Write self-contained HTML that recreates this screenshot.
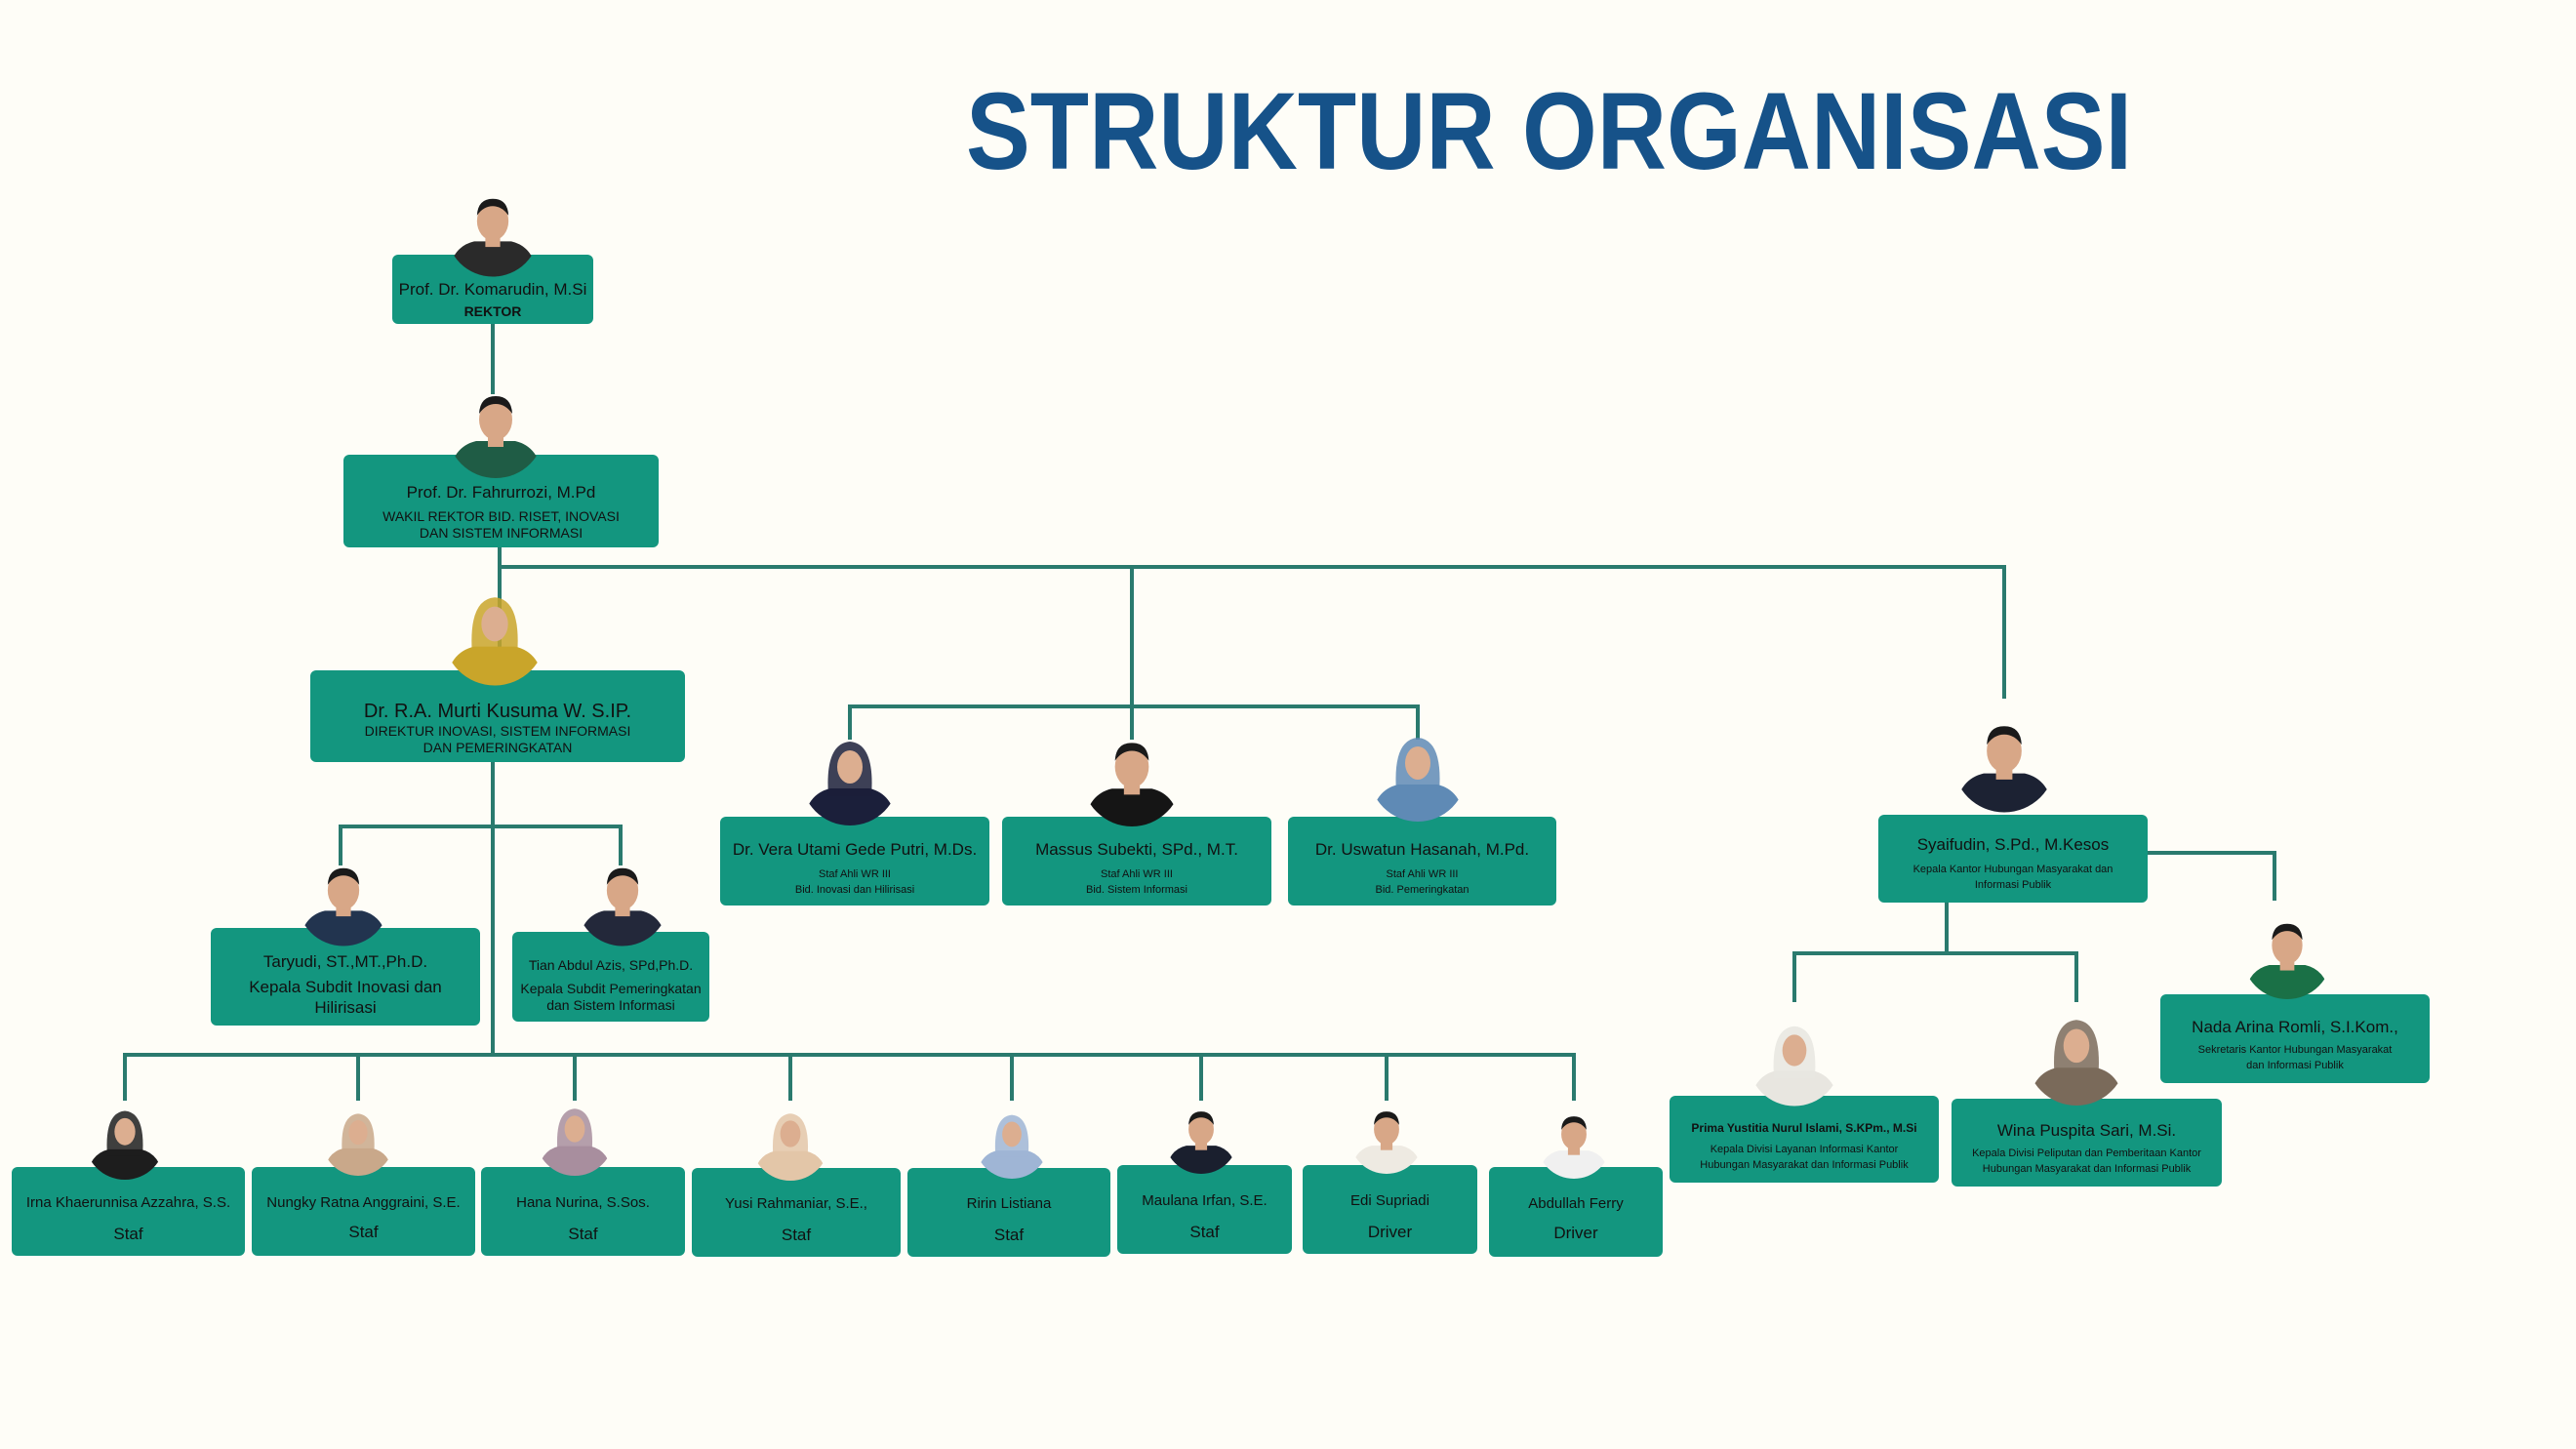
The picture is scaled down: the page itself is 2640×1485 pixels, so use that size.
<!DOCTYPE html>
<html><head><meta charset="utf-8"><style>
html,body{margin:0;padding:0;background:#fefdf7;}
#c{position:relative;width:2640px;height:1485px;overflow:hidden;background:#fefdf7;font-family:"Liberation Sans",sans-serif;}
.b{position:absolute;background:#13967f;border-radius:6px;color:#111;text-align:center;box-sizing:border-box;display:flex;flex-direction:column;justify-content:flex-end;align-items:center;}
.n{font-size:17px;line-height:1.25;}
.s{font-size:14px;line-height:1.2;}
.xs{font-size:11px;line-height:1.4;}
svg{position:absolute;left:0;top:0;}
</style></head><body><div id="c">
<svg width="2640" height="1485">
<text x="990" y="173" font-family="Liberation Sans" font-weight="bold" font-size="112" fill="#165289" textLength="1195" lengthAdjust="spacingAndGlyphs">STRUKTUR ORGANISASI</text>
<g stroke="#2a7a6e" stroke-width="4" fill="none">
<path d="M505 332V404"/>
<path d="M512 561V687"/>
<path d="M510 581H2054V716"/>
<path d="M1160 581V724M871 758V724H1453V758M1160 724V758"/>
<path d="M505 781V1081"/>
<path d="M349 887V847H636V887"/>
<path d="M128 1128V1081H1613V1128M367 1081V1128M589 1081V1128M810 1081V1128M1037 1081V1128M1231 1081V1128M1421 1081V1128"/>
<path d="M2201 874H2331V923"/>
<path d="M1995 925V977M1839 1027V977H2128V1027"/>
</g>
</svg>

<div class="b" style="left:402px;top:261px;width:206px;height:71px;padding-bottom:4px"><div class="n">Prof. Dr. Komarudin, M.Si</div><div class="s" style="font-weight:bold;margin-top:4px">REKTOR</div></div>
<div class="b" style="left:352px;top:466px;width:323px;height:95px;padding-bottom:6px"><div class="n">Prof. Dr. Fahrurrozi, M.Pd</div><div class="s" style="margin-top:6px">WAKIL REKTOR BID. RISET, INOVASI<br>DAN SISTEM INFORMASI</div></div>
<div class="b" style="left:318px;top:687px;width:384px;height:94px;padding-bottom:6px"><div style="font-size:20px;line-height:1.2">Dr. R.A. Murti Kusuma W. S.IP.</div><div class="s">DIREKTUR INOVASI, SISTEM INFORMASI<br>DAN PEMERINGKATAN</div></div>
<div class="b" style="left:216px;top:951px;width:276px;height:100px;padding-bottom:8px"><div class="n">Taryudi, ST.,MT.,Ph.D.</div><div class="n" style="margin-top:4px">Kepala Subdit Inovasi dan<br>Hilirisasi</div></div>
<div class="b" style="left:525px;top:955px;width:202px;height:92px;padding-bottom:8px"><div class="s">Tian Abdul Azis, SPd,Ph.D.</div><div class="s" style="margin-top:8px">Kepala Subdit Pemeringkatan<br>dan Sistem Informasi</div></div>

<div class="b" style="left:738px;top:837px;width:276px;height:91px;padding-bottom:8px"><div class="n">Dr. Vera Utami Gede Putri, M.Ds.</div><div class="xs" style="margin-top:8px">Staf Ahli WR III<br>Bid. Inovasi dan Hilirisasi</div></div>
<div class="b" style="left:1027px;top:837px;width:276px;height:91px;padding-bottom:8px"><div class="n">Massus Subekti, SPd., M.T.</div><div class="xs" style="margin-top:8px">Staf Ahli WR III<br>Bid. Sistem Informasi</div></div>
<div class="b" style="left:1320px;top:837px;width:275px;height:91px;padding-bottom:8px"><div class="n">Dr. Uswatun Hasanah, M.Pd.</div><div class="xs" style="margin-top:8px">Staf Ahli WR III<br>Bid. Pemeringkatan</div></div>

<div class="b" style="left:1925px;top:835px;width:276px;height:90px;padding-bottom:10px"><div class="n">Syaifudin, S.Pd., M.Kesos</div><div class="xs" style="margin-top:8px">Kepala Kantor Hubungan Masyarakat dan<br>Informasi Publik</div></div>
<div class="b" style="left:2214px;top:1019px;width:276px;height:91px;padding-bottom:10px"><div class="n">Nada Arina Romli, S.I.Kom.,</div><div class="xs" style="margin-top:6px">Sekretaris Kantor Hubungan Masyarakat<br>dan Informasi Publik</div></div>
<div class="b" style="left:1711px;top:1123px;width:276px;height:89px;padding-bottom:10px"><div class="xs" style="font-weight:bold;font-size:12px">Prima Yustitia Nurul Islami, S.KPm., M.Si</div><div class="xs" style="margin-top:6px">Kepala Divisi Layanan Informasi Kantor<br>Hubungan Masyarakat dan Informasi Publik</div></div>
<div class="b" style="left:2000px;top:1126px;width:277px;height:90px;padding-bottom:10px"><div class="n">Wina Puspita Sari, M.Si.</div><div class="xs" style="margin-top:6px">Kepala Divisi Peliputan dan Pemberitaan Kantor<br>Hubungan Masyarakat dan Informasi Publik</div></div>

<div class="b" style="left:12px;top:1196px;width:239px;height:91px;padding-bottom:12px"><div class="s" style="font-size:15px">Irna Khaerunnisa Azzahra, S.S.</div><div class="n" style="margin-top:12px">Staf</div></div>
<div class="b" style="left:258px;top:1196px;width:229px;height:91px;padding-bottom:14px"><div class="s" style="font-size:15px">Nungky Ratna Anggraini, S.E.</div><div class="n" style="margin-top:10px">Staf</div></div>
<div class="b" style="left:493px;top:1196px;width:209px;height:91px;padding-bottom:12px"><div class="s" style="font-size:15px">Hana Nurina, S.Sos.</div><div class="n" style="margin-top:12px">Staf</div></div>
<div class="b" style="left:709px;top:1197px;width:214px;height:91px;padding-bottom:12px"><div class="s" style="font-size:15px">Yusi Rahmaniar, S.E.,</div><div class="n" style="margin-top:12px">Staf</div></div>
<div class="b" style="left:930px;top:1197px;width:208px;height:91px;padding-bottom:12px"><div class="s" style="font-size:15px">Ririn Listiana</div><div class="n" style="margin-top:12px">Staf</div></div>
<div class="b" style="left:1145px;top:1194px;width:179px;height:91px;padding-bottom:12px"><div class="s" style="font-size:15px">Maulana Irfan, S.E.</div><div class="n" style="margin-top:12px">Staf</div></div>
<div class="b" style="left:1335px;top:1194px;width:179px;height:91px;padding-bottom:12px"><div class="s" style="font-size:15px">Edi Supriadi</div><div class="n" style="margin-top:12px">Driver</div></div>
<div class="b" style="left:1526px;top:1196px;width:178px;height:92px;padding-bottom:14px"><div class="s" style="font-size:15px">Abdullah Ferry</div><div class="n" style="margin-top:10px">Driver</div></div>

<svg width="2640" height="1485">
<defs>
<clipPath id="cp"><circle cx="0" cy="0" r="50"/></clipPath>
<g id="p"><g clip-path="url(#cp)"><path d="M-48 52 Q-46 18 -20 12 L20 12 Q46 18 48 52Z" fill="currentColor"/><rect x="-8" y="8" width="16" height="10" fill="#d8a787"/><ellipse cx="0" cy="-10" rx="17" ry="21" fill="#d8a787"/><path d="M-17 -16 Q-16 -34 0 -34 Q16 -34 17 -16 Q10 -26 0 -26 Q-10 -26 -17 -16Z" fill="#1a1a1a"/></g></g>
<g id="h"><g clip-path="url(#cp)"><path d="M-48 52 Q-46 18 -20 12 L20 12 Q46 18 48 52Z" fill="currentColor"/><path d="M-22 20 Q-26 -34 0 -36 Q26 -34 22 20Z" fill="currentColor" opacity="0.85"/><ellipse cx="0" cy="-10" rx="13" ry="17" fill="#dcae90"/></g></g>
</defs>
<g color="#2a2a2a"><use href="#p" transform="translate(505,236) scale(0.95)"/></g>
<g color="#1f5c45"><use href="#p" transform="translate(508,440) scale(1.0)"/></g>
<g color="#c9a52a"><use href="#h" transform="translate(507,650) scale(1.05)"/></g>
<g color="#22344f"><use href="#p" transform="translate(352,922) scale(0.95)"/></g>
<g color="#23283a"><use href="#p" transform="translate(638,922) scale(0.95)"/></g>
<g color="#1b1f3a"><use href="#h" transform="translate(871,796) scale(1.0)"/></g>
<g color="#151515"><use href="#p" transform="translate(1160,796) scale(1.02)"/></g>
<g color="#5f8ab5"><use href="#h" transform="translate(1453,792) scale(1.0)"/></g>
<g color="#1c2233"><use href="#p" transform="translate(2054,780) scale(1.05)"/></g>
<g color="#1a7046"><use href="#p" transform="translate(2344,978) scale(0.92)"/></g>
<g color="#e8e6e0"><use href="#h" transform="translate(1839,1086) scale(0.95)"/></g>
<g color="#7a6a5a"><use href="#h" transform="translate(2128,1082) scale(1.02)"/></g>
<g color="#1d1d1d"><use href="#h" transform="translate(128,1168) scale(0.82)"/></g>
<g color="#c9a88a"><use href="#h" transform="translate(367,1168) scale(0.74)"/></g>
<g color="#a88e9e"><use href="#h" transform="translate(589,1165) scale(0.8)"/></g>
<g color="#e3c6a8"><use href="#h" transform="translate(810,1170) scale(0.8)"/></g>
<g color="#9fb5d5"><use href="#h" transform="translate(1037,1170) scale(0.76)"/></g>
<g color="#1a1f2e"><use href="#p" transform="translate(1231,1165) scale(0.76)"/></g>
<g color="#eeeae2"><use href="#p" transform="translate(1421,1165) scale(0.76)"/></g>
<g color="#f0f0f0"><use href="#p" transform="translate(1613,1170) scale(0.76)"/></g>
</svg>
</div></body></html>
